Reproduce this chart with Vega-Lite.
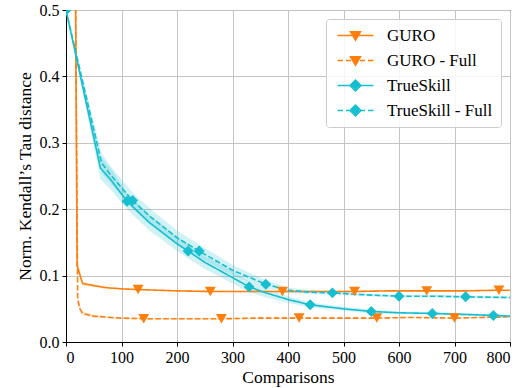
{
  "$schema": "https://vega.github.io/schema/vega-lite/v6.json",
  "width": 444,
  "height": 332,
  "autosize": {"type": "none"},
  "padding": {"left": 66, "top": 10, "right": 16, "bottom": 46},
  "config": {
    "font": "serif",
    "view": {"stroke": "#000000", "strokeWidth": 1},
    "axis": {
      "labelFont": "serif", "titleFont": "serif",
      "labelFontSize": 16, "titleFontSize": 17.5, "titleFontWeight": "normal",
      "labelColor": "#000000", "titleColor": "#000000",
      "domainColor": "#000000", "tickColor": "#000000", "tickSize": 4, "labelPadding": 3,
      "gridColor": "#c4c4c4", "gridWidth": 1
    },
    "legend": {"labelFont": "serif", "labelFontSize": 17, "labelColor": "#000000",
      "orient": "top-right", "offset": 9, "padding": 8, "title": null,
      "fillColor": "rgba(255,255,255,0.85)", "strokeColor": "#cccccc", "cornerRadius": 3,
      "symbolSize": 100, "symbolOffset": 13, "labelOffset": 23, "rowPadding": 7, "symbolStrokeWidth": 1.5}
  },
  "data": {"values": [
    {"s": "GURO", "x": 17, "v": 0.55, "lo": 0.55, "hi": 0.55, "m": 0},
    {"s": "GURO", "x": 20, "v": 0.115, "lo": 0.108, "hi": 0.122, "m": 0},
    {"s": "GURO", "x": 30, "v": 0.088, "lo": 0.085, "hi": 0.091, "m": 0},
    {"s": "GURO", "x": 50, "v": 0.085, "lo": 0.083, "hi": 0.087, "m": 0},
    {"s": "GURO", "x": 70, "v": 0.082, "lo": 0.081, "hi": 0.084, "m": 0},
    {"s": "GURO", "x": 100, "v": 0.080, "lo": 0.079, "hi": 0.081, "m": 0},
    {"s": "GURO", "x": 130, "v": 0.079, "lo": 0.078, "hi": 0.080, "m": 1},
    {"s": "GURO", "x": 200, "v": 0.077, "lo": 0.076, "hi": 0.078, "m": 0},
    {"s": "GURO", "x": 260, "v": 0.076, "lo": 0.075, "hi": 0.077, "m": 1},
    {"s": "GURO", "x": 330, "v": 0.076, "lo": 0.075, "hi": 0.077, "m": 0},
    {"s": "GURO", "x": 390, "v": 0.076, "lo": 0.075, "hi": 0.077, "m": 1},
    {"s": "GURO", "x": 450, "v": 0.076, "lo": 0.075, "hi": 0.077, "m": 0},
    {"s": "GURO", "x": 520, "v": 0.076, "lo": 0.075, "hi": 0.077, "m": 1},
    {"s": "GURO", "x": 580, "v": 0.077, "lo": 0.076, "hi": 0.078, "m": 0},
    {"s": "GURO", "x": 650, "v": 0.077, "lo": 0.076, "hi": 0.078, "m": 1},
    {"s": "GURO", "x": 720, "v": 0.077, "lo": 0.076, "hi": 0.078, "m": 0},
    {"s": "GURO", "x": 780, "v": 0.078, "lo": 0.077, "hi": 0.079, "m": 1},
    {"s": "GURO", "x": 800, "v": 0.078, "lo": 0.077, "hi": 0.079, "m": 0},

    {"s": "GURO - Full", "x": 17, "v": 0.55, "lo": 0.55, "hi": 0.55, "m": 0},
    {"s": "GURO - Full", "x": 21, "v": 0.065, "lo": 0.058, "hi": 0.072, "m": 0},
    {"s": "GURO - Full", "x": 25, "v": 0.05, "lo": 0.045, "hi": 0.055, "m": 0},
    {"s": "GURO - Full", "x": 30, "v": 0.043, "lo": 0.040, "hi": 0.046, "m": 0},
    {"s": "GURO - Full", "x": 50, "v": 0.039, "lo": 0.037, "hi": 0.041, "m": 0},
    {"s": "GURO - Full", "x": 80, "v": 0.037, "lo": 0.036, "hi": 0.038, "m": 0},
    {"s": "GURO - Full", "x": 100, "v": 0.036, "lo": 0.035, "hi": 0.037, "m": 0},
    {"s": "GURO - Full", "x": 140, "v": 0.035, "lo": 0.034, "hi": 0.036, "m": 1},
    {"s": "GURO - Full", "x": 200, "v": 0.035, "lo": 0.034, "hi": 0.036, "m": 0},
    {"s": "GURO - Full", "x": 280, "v": 0.035, "lo": 0.034, "hi": 0.036, "m": 1},
    {"s": "GURO - Full", "x": 350, "v": 0.036, "lo": 0.035, "hi": 0.037, "m": 0},
    {"s": "GURO - Full", "x": 420, "v": 0.036, "lo": 0.035, "hi": 0.037, "m": 1},
    {"s": "GURO - Full", "x": 500, "v": 0.036, "lo": 0.035, "hi": 0.037, "m": 0},
    {"s": "GURO - Full", "x": 560, "v": 0.036, "lo": 0.035, "hi": 0.037, "m": 1},
    {"s": "GURO - Full", "x": 620, "v": 0.037, "lo": 0.036, "hi": 0.038, "m": 0},
    {"s": "GURO - Full", "x": 700, "v": 0.036, "lo": 0.035, "hi": 0.037, "m": 1},
    {"s": "GURO - Full", "x": 750, "v": 0.037, "lo": 0.036, "hi": 0.038, "m": 0},
    {"s": "GURO - Full", "x": 800, "v": 0.038, "lo": 0.037, "hi": 0.039, "m": 0},

    {"s": "TrueSkill", "x": 0, "v": 0.5, "lo": 0.5, "hi": 0.5, "m": 1},
    {"s": "TrueSkill", "x": 62, "v": 0.262, "lo": 0.245, "hi": 0.28, "m": 0},
    {"s": "TrueSkill", "x": 80, "v": 0.245, "lo": 0.23, "hi": 0.262, "m": 0},
    {"s": "TrueSkill", "x": 110, "v": 0.212, "lo": 0.2, "hi": 0.224, "m": 1},
    {"s": "TrueSkill", "x": 150, "v": 0.18, "lo": 0.168, "hi": 0.192, "m": 0},
    {"s": "TrueSkill", "x": 200, "v": 0.148, "lo": 0.137, "hi": 0.159, "m": 0},
    {"s": "TrueSkill", "x": 220, "v": 0.137, "lo": 0.126, "hi": 0.148, "m": 1},
    {"s": "TrueSkill", "x": 250, "v": 0.12, "lo": 0.11, "hi": 0.13, "m": 0},
    {"s": "TrueSkill", "x": 300, "v": 0.097, "lo": 0.088, "hi": 0.106, "m": 0},
    {"s": "TrueSkill", "x": 330, "v": 0.083, "lo": 0.075, "hi": 0.091, "m": 1},
    {"s": "TrueSkill", "x": 360, "v": 0.074, "lo": 0.067, "hi": 0.081, "m": 0},
    {"s": "TrueSkill", "x": 400, "v": 0.064, "lo": 0.059, "hi": 0.069, "m": 0},
    {"s": "TrueSkill", "x": 440, "v": 0.056, "lo": 0.052, "hi": 0.06, "m": 1},
    {"s": "TrueSkill", "x": 500, "v": 0.05, "lo": 0.047, "hi": 0.053, "m": 0},
    {"s": "TrueSkill", "x": 550, "v": 0.046, "lo": 0.043, "hi": 0.049, "m": 1},
    {"s": "TrueSkill", "x": 600, "v": 0.044, "lo": 0.042, "hi": 0.046, "m": 0},
    {"s": "TrueSkill", "x": 660, "v": 0.043, "lo": 0.041, "hi": 0.045, "m": 1},
    {"s": "TrueSkill", "x": 700, "v": 0.042, "lo": 0.040, "hi": 0.044, "m": 0},
    {"s": "TrueSkill", "x": 770, "v": 0.040, "lo": 0.038, "hi": 0.042, "m": 1},
    {"s": "TrueSkill", "x": 800, "v": 0.039, "lo": 0.037, "hi": 0.041, "m": 0},

    {"s": "TrueSkill - Full", "x": 0, "v": 0.5, "lo": 0.5, "hi": 0.5, "m": 1},
    {"s": "TrueSkill - Full", "x": 64, "v": 0.27, "lo": 0.255, "hi": 0.285, "m": 0},
    {"s": "TrueSkill - Full", "x": 80, "v": 0.252, "lo": 0.239, "hi": 0.265, "m": 0},
    {"s": "TrueSkill - Full", "x": 120, "v": 0.213, "lo": 0.201, "hi": 0.225, "m": 1},
    {"s": "TrueSkill - Full", "x": 150, "v": 0.19, "lo": 0.178, "hi": 0.202, "m": 0},
    {"s": "TrueSkill - Full", "x": 200, "v": 0.157, "lo": 0.146, "hi": 0.168, "m": 0},
    {"s": "TrueSkill - Full", "x": 240, "v": 0.137, "lo": 0.127, "hi": 0.147, "m": 1},
    {"s": "TrueSkill - Full", "x": 300, "v": 0.108, "lo": 0.1, "hi": 0.116, "m": 0},
    {"s": "TrueSkill - Full", "x": 360, "v": 0.087, "lo": 0.081, "hi": 0.093, "m": 1},
    {"s": "TrueSkill - Full", "x": 400, "v": 0.078, "lo": 0.074, "hi": 0.082, "m": 0},
    {"s": "TrueSkill - Full", "x": 440, "v": 0.075, "lo": 0.072, "hi": 0.078, "m": 0},
    {"s": "TrueSkill - Full", "x": 480, "v": 0.074, "lo": 0.071, "hi": 0.077, "m": 1},
    {"s": "TrueSkill - Full", "x": 540, "v": 0.071, "lo": 0.069, "hi": 0.073, "m": 0},
    {"s": "TrueSkill - Full", "x": 600, "v": 0.069, "lo": 0.067, "hi": 0.071, "m": 1},
    {"s": "TrueSkill - Full", "x": 660, "v": 0.069, "lo": 0.067, "hi": 0.071, "m": 0},
    {"s": "TrueSkill - Full", "x": 720, "v": 0.068, "lo": 0.066, "hi": 0.07, "m": 1},
    {"s": "TrueSkill - Full", "x": 800, "v": 0.067, "lo": 0.065, "hi": 0.069, "m": 0}
  ]},
  "layer": [
    {
      "mark": {"type": "area", "fillOpacity": 0.2, "clip": true},
      "encoding": {
        "x": {"field": "x", "type": "quantitative"},
        "y": {"field": "lo", "type": "quantitative"},
        "y2": {"field": "hi"},
        "color": {"field": "s", "type": "nominal", "legend": null,
          "scale": {"domain": ["GURO", "GURO - Full", "TrueSkill", "TrueSkill - Full"], "range": ["#ff7f0e", "#ff7f0e", "#17becf", "#17becf"]}}
      }
    },
    {
      "mark": {"type": "line", "strokeWidth": 1.6, "clip": true},
      "encoding": {
        "x": {"field": "x", "type": "quantitative", "scale": {"domain": [0, 800], "nice": false},
              "axis": {"title": "Comparisons", "values": [0,100,200,300,400,500,600,700,800], "format": "d", "titlePadding": 3}},
        "y": {"field": "v", "type": "quantitative", "scale": {"domain": [0, 0.5], "nice": false},
              "axis": {"title": "Norm. Kendall’s Tau distance", "values": [0,0.1,0.2,0.3,0.4,0.5], "format": ".1f", "titlePadding": 5}},
        "color": {"field": "s", "type": "nominal", "legend": null,
          "scale": {"domain": ["GURO", "GURO - Full", "TrueSkill", "TrueSkill - Full"], "range": ["#ff7f0e", "#ff7f0e", "#17becf", "#17becf"]}},
        "strokeDash": {"field": "s", "type": "nominal", "legend": null,
          "scale": {"domain": ["GURO", "GURO - Full", "TrueSkill", "TrueSkill - Full"], "range": [[1, 0], [5.5, 2.4], [1, 0], [5.5, 2.4]]}}
      }
    },
    {
      "transform": [{"filter": "datum.m === 1"}],
      "mark": {"type": "point", "filled": true, "opacity": 1, "clip": true},
      "encoding": {
        "x": {"field": "x", "type": "quantitative"},
        "y": {"field": "v", "type": "quantitative"},
        "color": {"field": "s", "type": "nominal", "legend": null,
          "scale": {"domain": ["GURO", "GURO - Full", "TrueSkill", "TrueSkill - Full"], "range": ["#ff7f0e", "#ff7f0e", "#17becf", "#17becf"]}},
        "shape": {"field": "s", "type": "nominal", "legend": null,
          "scale": {"domain": ["GURO", "GURO - Full", "TrueSkill", "TrueSkill - Full"], "range": ["triangle-down", "triangle-down", "diamond", "diamond"]}},
        "size": {"value": 120}
      }
    },
    {
      "transform": [{"filter": "datum.m === 5"}],
      "mark": {"type": "point", "filled": false, "opacity": 1, "strokeWidth": 1.5, "size": 100},
      "encoding": {
        "x": {"field": "x", "type": "quantitative"},
        "y": {"field": "v", "type": "quantitative"},
        "color": {"field": "s", "type": "nominal",
          "scale": {"domain": ["GURO", "GURO - Full", "TrueSkill", "TrueSkill - Full"], "range": ["#ff7f0e", "#ff7f0e", "#17becf", "#17becf"]}},
        "shape": {"field": "s", "type": "nominal",
          "scale": {"domain": ["GURO", "GURO - Full", "TrueSkill", "TrueSkill - Full"], "range": [
            "M-3.6,0H3.6M-1,-0.75L1,-0.75L0,0.95ZM-0.7,-0.45H0.7M-0.55,-0.15H0.55M-0.37,0.15H0.37M-0.2,0.45H0.2",
            "M-3.6,0H-2.5M-1.9,0H-0.9M0.9,0H1.9M2.5,0H3.6M-1,-0.75L1,-0.75L0,0.95ZM-0.7,-0.45H0.7M-0.55,-0.15H0.55M-0.37,0.15H0.37M-0.2,0.45H0.2",
            "M-3.6,0H3.6M0,-1.1L1.1,0L0,1.1L-1.1,0ZM-0.2,-0.75H0.2M-0.5,-0.45H0.5M-0.8,-0.15H0.8M-0.8,0.15H0.8M-0.5,0.45H0.5M-0.2,0.75H0.2",
            "M-3.6,0H-2.5M-1.9,0H-0.9M0.9,0H1.9M2.5,0H3.6M0,-1.1L1.1,0L0,1.1L-1.1,0ZM-0.2,-0.75H0.2M-0.5,-0.45H0.5M-0.8,-0.15H0.8M-0.8,0H0.8M-0.8,0.15H0.8M-0.5,0.45H0.5M-0.2,0.75H0.2"
          ]}}
      }
    }
  ],
  "resolve": {"scale": {"shape": "independent", "color": "independent"}}
}
